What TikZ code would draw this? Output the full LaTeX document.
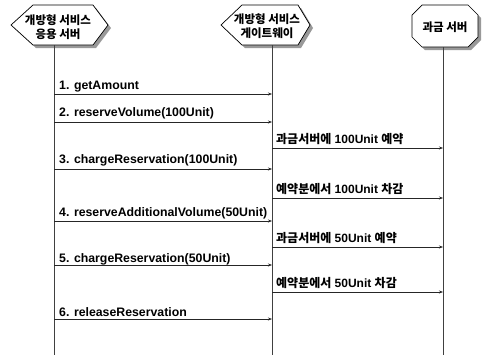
\documentclass[tikz,border=0pt]{standalone}
\usepackage{fontspec}
\setmainfont{Liberation Sans}
\newfontfamily\kr{Noto Sans CJK KR}
\usetikzlibrary{arrows.meta}
\begin{document}
\begin{tikzpicture}[x=1pt,y=-1pt,
  shadowfill/.style={fill=black!40,draw=none},
  headbox/.style={draw=black,line width=0.7pt,fill=white},
  headtext/.style={font=\kr\bfseries\fontsize{11.5}{14}\selectfont,align=center,inner sep=0pt},
  lifeline/.style={draw=black!75,line width=0.6pt},
  msg/.style={draw=black!85,line width=0.6pt,-{Stealth[length=4pt,width=3pt]}},
  msglabel/.style={anchor=west,inner sep=0pt,font=\bfseries\fontsize{12.3}{14}\selectfont},
  krlabel/.style={anchor=west,inner sep=0pt,font=\bfseries\fontsize{12}{14}\selectfont}]
\useasboundingbox (0,0) rectangle (485,357);
% header shapes
\fill[shadowfill] (14,28) -- (36,8) -- (96,8) -- (111,28) -- (96,48) -- (36,48) -- cycle;
\draw[headbox] (11,25) -- (33,5) -- (93,5) -- (108,25) -- (93,45) -- (33,45) -- cycle;
\fill[shadowfill] (224,28) -- (245,8) -- (301,8) -- (313,28) -- (301,48) -- (245,48) -- cycle;
\draw[headbox] (221,25) -- (242,5) -- (298,5) -- (310,25) -- (298,45) -- (242,45) -- cycle;
\fill[shadowfill] (425,8) -- (471,8) -- (481,18) -- (481,40) -- (471,50) -- (425,50) -- (415,40) -- (415,18) -- cycle;
\draw[headbox] (422,5) -- (468,5) -- (478,15) -- (478,37) -- (468,47) -- (422,47) -- (412,37) -- (412,15) -- cycle;
\node[headtext] (hA) at (58,27) {개방형 서비스\\응용 서버};
\node[headtext] (hB) at (267,26) {개방형 서비스\\게이트웨이};
\node[headtext] (hC) at (445,27) {과금 서버};
% lifelines
\coordinate (A0) at (54,45);  \coordinate (A1) at (54,355);
\coordinate (B0) at (272,45); \coordinate (B1) at (272,355);
\coordinate (C0) at (443,47); \coordinate (C1) at (443,355);
\draw[lifeline] (A0) -- (A1);
\draw[lifeline] (B0) -- (B1);
\draw[lifeline] (C0) -- (C1);
% message end points
\foreach \n/\y in {1/94,2/122,3/169,4/221,5/265,6/319} {
  \coordinate (s\n) at (54,\y); \coordinate (e\n) at (272,\y);
}
\foreach \n/\y in {a/148,b/198,c/247,d/292} {
  \coordinate (s\n) at (272,\y); \coordinate (e\n) at (443,\y);
}
\foreach \n in {1,2,3,4,5,6,a,b,c,d} { \draw[msg] (s\n) -- (e\n); }
% labels
\node[msglabel] (l1) at (59,87) {1. getAmount};
\node[msglabel] (l2) at (59,113) {2. reserveVolume(100Unit)};
\node[msglabel] (l3) at (59,160) {3. chargeReservation(100Unit)};
\node[msglabel] (l4) at (59,213) {4. reserveAdditionalVolume(50Unit)};
\node[msglabel] (l5) at (59,259) {5. chargeReservation(50Unit)};
\node[msglabel] (l6) at (59,312) {6. releaseReservation};
\node[krlabel] (la) at (276,139) {{\kr\bfseries 과금서버에} \textbf{100Unit} {\kr\bfseries 예약}};
\node[krlabel] (lb) at (276,189) {{\kr\bfseries 예약분에서} \textbf{100Unit} {\kr\bfseries 차감}};
\node[krlabel] (lc) at (276,238) {{\kr\bfseries 과금서버에} \textbf{50Unit} {\kr\bfseries 예약}};
\node[krlabel] (ld) at (276,283) {{\kr\bfseries 예약분에서} \textbf{50Unit} {\kr\bfseries 차감}};
\end{tikzpicture}
\end{document}
